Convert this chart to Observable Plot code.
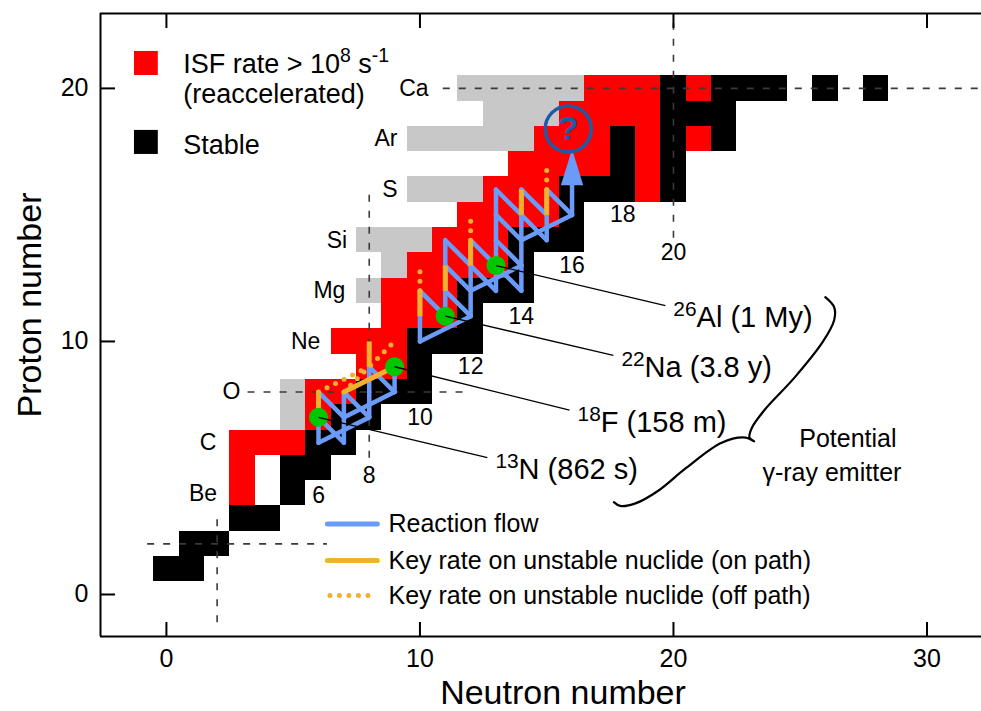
<!DOCTYPE html>
<html><head><meta charset="utf-8">
<script src="https://cdn.jsdelivr.net/npm/d3@7"></script>
<script src="https://cdn.jsdelivr.net/npm/@observablehq/plot@0.6"></script>
<style>body{margin:0;background:#fff;} svg{font-family:"Liberation Sans",Arial,sans-serif;}</style>
</head><body><div id="chart"></div>
<script>
// ---- data (N = neutron number, Z = proton number) ----
const xTicks = [0, 10, 20, 30];
const yTicks = [0, 10, 20];
// runs: [Z, N from, N to]
const stableRuns = [[1,0,1],[2,1,2],[3,3,4],[4,5,5],[5,5,6],[6,6,7],[7,7,8],[8,8,10],[9,10,10],[10,10,12],[11,12,12],[12,12,14],[13,14,14],[14,14,16],[15,16,16],[16,16,18],[16,20,20],[17,18,18],[17,20,20],[18,18,18],[18,20,20],[18,22,22],[19,20,22],[20,20,20],[20,22,24],[20,26,26],[20,28,28]];
const isfRuns = [[4,3,3],[5,3,3],[6,3,5],[7,6,6],[8,6,7],[9,8,9],[10,7,9],[11,9,11],[12,9,11],[13,10,13],[14,11,13],[15,12,15],[16,13,15],[16,19,19],[17,14,17],[17,19,19],[18,15,17],[18,19,19],[18,21,21],[19,16,19],[20,17,19],[20,21,21]];
const otherRuns = [[7,5,5],[8,5,5],[12,8,8],[13,9,9],[14,8,10],[16,10,12],[18,10,14],[19,13,15],[20,12,16]];
// reaction flow segments [N1, Z1, N2, Z2]
const flow = [
  [6,6,6,7],[6,7,6,8],[6,7,7,6],[6,8,7,7],[7,6,7,7],[7,7,7,8],[7,8,8,7],[8,7,6,6],[8,7,8,8],[8,8,8,9],[8,9,9,8],[9,8,7,7],[9,8,9,9],
  [10,10,10,11],[10,11,10,12],[10,12,11,11],[11,11,11,12],[11,12,11,13],[11,13,11,14],
  [11,12,12,11],[11,13,12,12],[11,14,12,13],[12,11,10,10],[12,11,12,12],[12,12,12,13],[12,13,12,14],
  [12,13,13,12],[12,14,13,13],[13,12,13,13],[13,13,13,14],[13,14,13,15],[13,15,13,16],
  [13,13,14,12],[13,14,14,13],[13,15,14,14],[13,16,14,15],[14,12,14,13],[14,13,12,12],[14,13,14,14],[14,14,14,15],[14,15,14,16],
  [14,15,15,14],[14,16,15,15],[15,14,15,15],[15,15,15,16],[15,16,16,15],[16,15,14,14],[16,15,16,16.3]
];
const arrowHead = [{N: 16, Z: 16.88}];
const keyOnPath = [[6,7,6,8],[7,8,9,9],[8,9,8,10],[10,11,10,12],[11,12,11,13],[12,13,12,14],[14,15,14,16],[15,15,15,16]];
const keyOffPath = [[6,8,8,9],[7,8,9,10],[10,12,10,13],[12,14,12,15],[15,16,15,17]];
const gammaN = [6, 9, 11, 13];
const gammaZ = [7, 9, 11, 13];
const gammaLabels = ["^{13}N (862 s)", "^{18}F (158 m)", "^{22}Na (3.8 y)", "^{26}Al (1 My)"];
const labelN = [12.66, 15.9, 17.63, 19.68];
const labelZ = [5.41, 7.29, 9.45, 11.42];
const elements = ["Be", "C", "O", "Ne", "Mg", "Si", "S", "Ar", "Ca"];
const elementZ = [4, 6, 8, 10, 12, 14, 16, 18, 20];
const elementLabelN = [2.0, 1.97, 2.92, 6.07, 7.06, 7.13, 9.12, 9.11, 10.34];
const magicN = [6, 8, 10, 12, 14, 16, 18, 20];
const magicLabelZ = [3.9, 4.7, 7.0, 9.0, 11.0, 13.0, 15.0, 13.5];
// magic-number guide lines
const dashH = [[2, -0.76, 6.33], [8, 3.2, 11.8], [20, 10.9, 32.2]]; // [Z, N1, N2]
const dashV = [[2, -1.1, 3.05], [8, 5.4, 15.8], [20, 14.1, 22.6]];  // [N, Z1, Z2]
const questionMark = [{N: 15.85, Z: 18.4}];
const legendLineN = [6.35, 8.32];
const legendRowsZ = [2.79, 1.34, -0.04];
const legendLabels = ["Reaction flow", "Key rate on unstable nuclide (on path)", "Key rate on unstable nuclide (off path)"];
// curly brace (N, Z)
const braceN = [25.99, 26.34, 26.34, 25.9, 24.8, 23.6, 23.1, 23.0, 23.18, 22.85, 21.9, 20.5, 19.4, 18.5, 17.9, 17.65];
const braceZ = [11.75, 11.35, 10.85, 10.0, 8.6, 7.3, 6.6, 6.2, 6.05, 6.2, 6.0, 5.0, 4.1, 3.6, 3.5, 3.65];

// ---- build ----
const xDomain = [-2.6, 32.15], yDomain = [-1.66, 22.96];
const W = 981, H = 711, mL = 100, mR = 0, mT = 13, mB = 75;
const innerW = W - mL - mR, innerH = H - mT - mB;
const cells = runs => runs.flatMap(([z, n1, n2]) => d3.range(n1, n2 + 1).map(n => ({N: n, Z: z})));
const cellOpts = fill => ({x1: d => d.N - 0.5, x2: d => d.N + 0.5, y1: d => d.Z - 0.5, y2: d => d.Z + 0.5, fill, shapeRendering: "crispEdges"});
const seg = o => ({x1: d => d[0], y1: d => d[1], x2: d => d[2], y2: d => d[3], ...o});
const BLUE = "#6b9bf8", ORANGE = "#efb12e", GREEN = "#00c800", DARKBLUE = "#1f5aa6";
const headSymbol = {draw(ctx, size) { const r = Math.sqrt(size / Math.PI); ctx.moveTo(0, -r); ctx.lineTo(0.62 * r, r); ctx.lineTo(-0.62 * r, r); ctx.closePath(); }};

const chart = Plot.plot({
  width: W, height: H, marginLeft: mL, marginRight: mR, marginTop: mT, marginBottom: mB,
  style: {fontFamily: "'Liberation Sans', Arial, sans-serif", fontSize: "25px", background: "#fff", color: "#000"},
  x: {domain: xDomain, ticks: xTicks, tickSize: 0, tickPadding: 13, label: null},
  y: {domain: yDomain, ticks: yTicks, tickSize: 0, tickPadding: 12, label: null},
  marks: [
    Plot.rect(cells(otherRuns), cellOpts("#c8c8c8")),
    Plot.rect(cells(isfRuns), cellOpts("#ff0000")),
    Plot.rect(cells(stableRuns), cellOpts("#000000")),
    Plot.link(dashH, {x1: d => d[1], x2: d => d[2], y1: d => d[0], y2: d => d[0], stroke: "#3a3a3a", strokeWidth: 1.6, strokeDasharray: "7,9"}),
    Plot.link(dashV, {x1: d => d[0], x2: d => d[0], y1: d => d[1], y2: d => d[2], stroke: "#3a3a3a", strokeWidth: 1.6, strokeDasharray: "7,9"}),
    Plot.link(flow, seg({stroke: BLUE, strokeWidth: 4.5, strokeLinecap: "round"})),
    Plot.dot(arrowHead, {x: "N", y: "Z", r: 18, symbol: headSymbol, fill: BLUE, stroke: "none"}),
    Plot.link(keyOnPath, seg({stroke: ORANGE, strokeWidth: 5, strokeLinecap: "butt"})),
    Plot.link(keyOffPath, seg({stroke: ORANGE, strokeWidth: 5, strokeLinecap: "round", strokeDasharray: "0,9.5"})),
    Plot.dot(gammaN, {x: d => d, y: (d, i) => gammaZ[i], r: 9.5, fill: GREEN, stroke: "none"}),
    Plot.link(gammaN, {x1: d => d, y1: (d, i) => gammaZ[i], x2: (d, i) => labelN[i], y2: (d, i) => labelZ[i], stroke: "#000", strokeWidth: 1.3}),
    Plot.text(gammaLabels, {x: (d, i) => labelN[i], y: (d, i) => labelZ[i], text: d => d, textAnchor: "start", lineAnchor: "top", dx: 8, dy: 1, fontSize: 29}),
    Plot.line(braceN, {x: d => d, y: (d, i) => braceZ[i], curve: "catmull-rom", stroke: "#000", strokeWidth: 2.2, fill: "none"}),
    Plot.text(["Potential"], {x: () => 26.88, y: () => 6.14, text: d => d, fontSize: 25}),
    Plot.text(["\u03b3-ray emitter"], {x: () => 26.25, y: () => 4.82, text: d => d, fontSize: 25}),
    Plot.dot(questionMark, {x: "N", y: "Z", r: 23, stroke: DARKBLUE, strokeWidth: 3.5, fill: "none"}),
    Plot.text(questionMark, {x: "N", y: "Z", text: () => "?", fontSize: 34, fontWeight: "bold", fill: DARKBLUE}),
    Plot.text(elements, {x: (d, i) => elementLabelN[i], y: (d, i) => elementZ[i], text: d => d, textAnchor: "end", fontSize: 23}),
    Plot.text(magicN, {x: d => d, y: (d, i) => magicLabelZ[i], text: d => String(d), fontSize: 23}),
    // top-left legend
    Plot.rect([0], {x1: () => -1.26, x2: () => -0.32, y1: () => 20.51, y2: () => 21.46, fill: "#ff0000"}),
    Plot.rect([0], {x1: () => -1.26, x2: () => -0.32, y1: () => 17.39, y2: () => 18.34, fill: "#000"}),
    Plot.text(["ISF rate > 10^{8} s^{-1}\n(reaccelerated)"], {x: () => 0.66, y: () => 21.43, text: d => d, textAnchor: "start", lineAnchor: "top", lineHeight: 1.1, fontSize: 27}),
    Plot.text(["Stable"], {x: () => 0.66, y: () => 18.18, text: d => d, textAnchor: "start", lineAnchor: "top", fontSize: 27}),
    // bottom legend
    Plot.link([0], {x1: () => legendLineN[0], x2: () => legendLineN[1], y1: () => legendRowsZ[0], y2: () => legendRowsZ[0], stroke: BLUE, strokeWidth: 5, strokeLinecap: "round"}),
    Plot.link([0], {x1: () => legendLineN[0], x2: () => legendLineN[1], y1: () => legendRowsZ[1], y2: () => legendRowsZ[1], stroke: ORANGE, strokeWidth: 5, strokeLinecap: "round"}),
    Plot.link([0], {x1: () => legendLineN[0] + 0.1, x2: () => legendLineN[1], y1: () => legendRowsZ[2], y2: () => legendRowsZ[2], stroke: ORANGE, strokeWidth: 5, strokeLinecap: "round", strokeDasharray: "0,9.5"}),
    Plot.text(legendLabels, {x: () => 8.76, y: (d, i) => legendRowsZ[i], text: d => d, textAnchor: "start", fontSize: 25}),
    // frame and inward ticks
    Plot.ruleY([yDomain[0], yDomain[1]], {stroke: "#000", strokeWidth: 2}),
    Plot.ruleX([xDomain[0]], {stroke: "#000", strokeWidth: 2}),
    Plot.tickX(xTicks, {x: d => d, insetTop: innerH - 14, stroke: "#000", strokeWidth: 2}),
    Plot.tickX(xTicks, {x: d => d, insetBottom: innerH - 15, stroke: "#000", strokeWidth: 2}),
    Plot.tickY(yTicks, {y: d => d, insetRight: innerW - 15, stroke: "#000", strokeWidth: 2}),
    // axis titles
    Plot.text(["Neutron number"], {frameAnchor: "bottom", textAnchor: "middle", lineAnchor: "middle", dx: 22, dy: 57, text: d => d, fontSize: 34}),
    Plot.text(["Proton number"], {frameAnchor: "left", textAnchor: "middle", lineAnchor: "middle", dx: -70, dy: -20, rotate: -90, text: d => d, fontSize: 34})
  ]
});

// superscripts: "^{...}" -> raised tspan
function supify(root) {
  root.querySelectorAll("text").forEach(t => {
    const targets = t.querySelectorAll("tspan").length ? Array.from(t.querySelectorAll("tspan")) : [t];
    targets.forEach(n => {
      const s = n.textContent;
      if (!s.includes("^{")) return;
      n.textContent = "";
      s.split(/(\^\{[^}]*\})/).filter(p => p.length).forEach(p => {
        const ts = document.createElementNS("http://www.w3.org/2000/svg", "tspan");
        if (p.startsWith("^{")) {
          ts.textContent = p.slice(2, -1);
          ts.setAttribute("font-size", "0.72em");
          ts.setAttribute("baseline-shift", "super");
        } else ts.textContent = p;
        n.appendChild(ts);
      });
    });
  });
}
supify(chart);
document.getElementById("chart").appendChild(chart);
</script></body></html>
